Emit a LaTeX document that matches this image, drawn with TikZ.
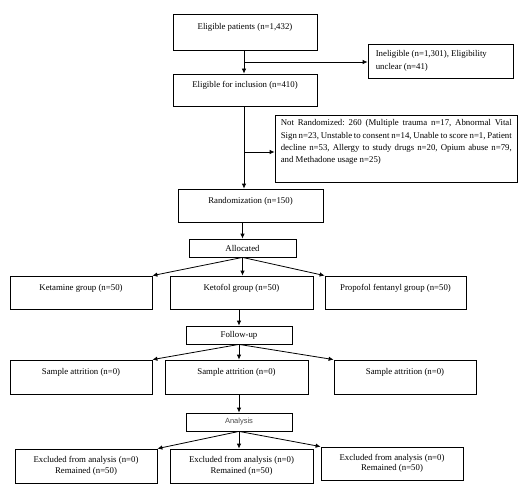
\documentclass[tikz,border=0pt]{standalone}
\usepackage{fontspec}
\setmainfont{Liberation Serif}
\newfontfamily\anfont{Liberation Sans}
\usetikzlibrary{arrows.meta,calc}
\frenchspacing
\tikzset{
  box/.style={draw, line width=0.8pt, inner sep=0pt, align=center,
    font=\fontsize{8.8}{11}\selectfont},
  txt/.style={inner sep=0pt, font=\fontsize{8.8}{12.3}\selectfont, align=left},
  ln/.style={line width=0.8pt},
  arr/.style={line width=0.8pt, -{Latex[length=5pt,width=4.5pt]}}
}
\begin{document}
\begin{tikzpicture}[x=1pt,y=-1pt]
\useasboundingbox[fill=white] (0,0) rectangle (532,492);
% top column
\node[box, minimum width=144, minimum height=36] (elig) at (245,32) {Eligible patients (n=1,432)\\~};
\node[box, minimum width=145, minimum height=34] (inel) at (440.5,61) {};
\node[txt, anchor=west] (ineltxt) at ($(inel.west)+(8,0)$) {Ineligible (n=1,301), Eligibility\\unclear (n=41)};
\node[box, minimum width=144, minimum height=32] (incl) at (245,90) {Eligible for inclusion (n=410)\\~};
\node[box, minimum width=242, minimum height=67] (notr) at (396,148.5) {};
\node[txt, anchor=north west] (notrtxt) at ($(notr.north west)+(6,5)$) {%
\makebox[231pt][s]{Not Randomized: 260 (Multiple trauma n=17, Abnormal Vital}\\
\makebox[231pt][s]{Sign n=23, Unstable to consent n=14, Unable to score n=1, Patient}\\
\makebox[231pt][s]{decline n=53, Allergy to study drugs n=20, Opium abuse n=79,}\\
and Methadone usage n=25)};
\node[box, minimum width=145, minimum height=33] (rand) at (250.5,205.5) {Randomization (n=150)\\~};
\node[box, minimum width=107, minimum height=18] (alloc) at (242.5,248) {Allocated};
% groups
\node[box, minimum width=142, minimum height=33] (ket) at (81,292.5) {Ketamine group (n=50)\\~};
\node[box, minimum width=143, minimum height=33] (ketofol) at (241.5,292.5) {Ketofol group (n=50)\\~};
\node[box, minimum width=141, minimum height=33] (prop) at (395.5,292.5) {Propofol fentanyl group (n=50)\\~};
\node[box, minimum width=106, minimum height=18] (follow) at (239,335) {Follow-up};
% follow-up
\node[box, minimum width=142, minimum height=34] (sa1) at (81,377) {Sample attrition (n=0)\\~};
\node[box, minimum width=143, minimum height=34] (sa2) at (236.5,377) {Sample attrition (n=0)\\~};
\node[box, minimum width=142, minimum height=34] (sa3) at (405,377) {Sample attrition (n=0)\\~};
\node[box, minimum width=106, minimum height=18, font=\anfont\fontsize{7.5}{9}\selectfont, text=black!70] (anal) at (239,422) {Analysis};
% analysis
\node[box, minimum width=142, minimum height=34, font=\fontsize{8.8}{10.5}\selectfont] (ex1) at (86,466) {Excluded from analysis (n=0)\\Remained (n=50)};
\node[box, minimum width=143, minimum height=34, font=\fontsize{8.8}{10.5}\selectfont] (ex2) at (241.5,466) {Excluded from analysis (n=0)\\Remained (n=50)};
\node[box, minimum width=142, minimum height=33, font=\fontsize{8.8}{10.5}\selectfont] (ex3) at (392,463.5) {Excluded from analysis (n=0)\\Remained (n=50)};
% connectors
\coordinate (t1) at (244,62);
\coordinate (t2) at (244,152);
\draw[ln] (elig.south -| t1) -- (t1);
\draw[arr] (t1) -- (incl.north -| t1);
\draw[arr] (t1) -- (t1 -| inel.west);
\draw[ln] (incl.south -| t2) -- (t2);
\draw[arr] (t2) -- (rand.north -| t2);
\draw[arr] (t2) -- (t2 -| notr.west);
\draw[arr] (alloc.north |- rand.south) -- (alloc.north);
\draw[arr] (alloc.south) -- (ket.north east);
\draw[arr] (alloc.south) -- (alloc.south |- ketofol.north);
\draw[arr] (alloc.south) -- (prop.north west);
\draw[arr] (follow.north |- ketofol.south) -- (follow.north);
\draw[arr] (follow.south) -- (sa1.north east);
\draw[arr] (follow.south) -- (follow.south |- sa2.north);
\draw[arr] (follow.south) -- (sa3.north west);
\draw[arr] (anal.north |- sa2.south) -- (anal.north);
\draw[arr] (anal.south) -- (ex1.north east);
\draw[arr] (anal.south) -- (anal.south |- ex2.north);
\draw[arr] (anal.south) -- (ex3.north west);
\end{tikzpicture}
\end{document}
